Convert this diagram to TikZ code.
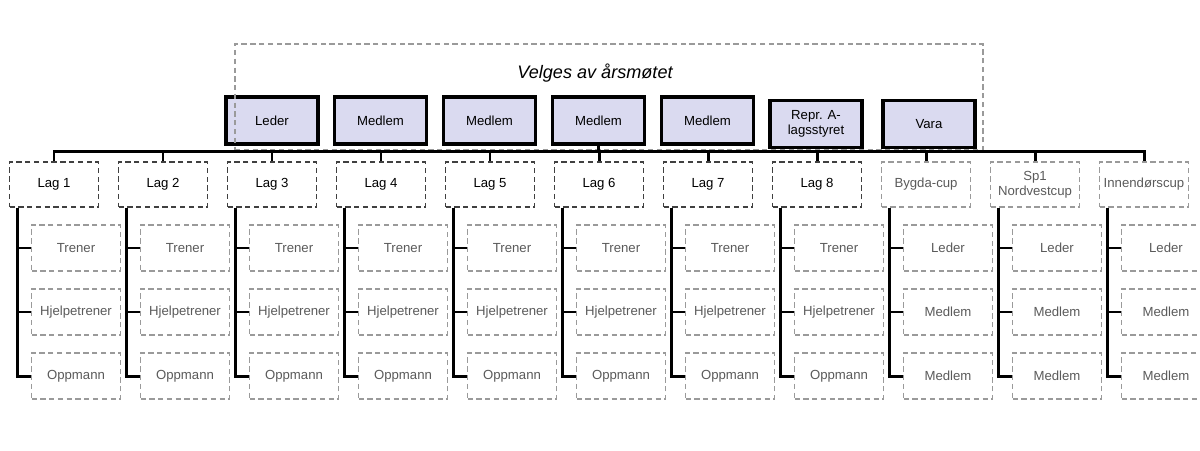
\documentclass[tikz,border=0pt]{standalone}
\usepackage{fontspec}
\setmainfont{Liberation Sans}
\usetikzlibrary{calc}

\definecolor{valgfill}{HTML}{DADAF0}
\definecolor{strek}{HTML}{9A9A9A}
\definecolor{tekstgraa}{HTML}{5A5A5A}

\begin{document}
\begin{tikzpicture}[x=0.02cm, y=-0.02cm,
    valgt/.style={draw, line width=1.8pt, fill=valgfill, inner sep=1pt, minimum width=1.84cm, minimum height=0.94cm, align=center, font=\fontsize{7.5}{8.5}\selectfont},
    lag/.style={draw=black!75, dash pattern=on 3pt off 2pt, line width=0.9pt, inner sep=1pt, minimum width=1.78cm, minimum height=0.9cm, align=center, font=\fontsize{7.5}{8.5}\selectfont},
    cup/.style={lag, draw=strek, text=tekstgraa},
    rolle/.style={draw=strek, dash pattern=on 3pt off 2pt, line width=0.85pt, inner sep=1pt, minimum width=1.78cm, minimum height=0.92cm, text=tekstgraa, font=\fontsize{7.5}{8.5}\selectfont},
    ramme/.style={draw=strek, dash pattern=on 3pt off 2pt, line width=0.85pt, minimum width=14.96cm, minimum height=2.12cm},
    buss/.style={line width=1.7pt}]
      \useasboundingbox (0,0) rectangle (1200,450);

      \node[valgt] (leder) at (272,120.5) {Leder};
      \node[valgt] (m1) at (380.5,120.5) {Medlem};
      \node[valgt] (m2) at (489.5,120.5) {Medlem};
      \node[valgt] (m3) at (598.5,120.5) {Medlem};
      \node[valgt] (m4) at (707.5,120.5) {Medlem};
      \node[valgt] (repr) at (816,124) {Repr. A-\\lagsstyret};
      \node[valgt] (vara) at (929,124) {Vara};

      \node[ramme] (ramme) at (609,97) {};
      \node[font=\fontsize{10.3}{12}\selectfont\itshape] (tittel) at (595,73) {Velges av årsmøtet};

      \node[lag] (1) at (54,184.5) {Lag 1};
      \node[lag] (2) at (163,184.5) {Lag 2};
      \node[lag] (3) at (272,184.5) {Lag 3};
      \node[lag] (4) at (381,184.5) {Lag 4};
      \node[lag] (5) at (490,184.5) {Lag 5};
      \node[lag] (6) at (599,184.5) {Lag 6};
      \node[lag] (7) at (708,184.5) {Lag 7};
      \node[lag] (8) at (817,184.5) {Lag 8};
      \node[cup] (9) at (926,184.5) {Bygda-cup};
      \node[cup] (10) at (1035,184.5) {Sp1\\Nordvestcup};
      \node[cup] (11) at (1144,184.5) {Innendørscup};

      \node[rolle] (1a) at (76,248) {Trener};
      \node[rolle] (1b) at (76,312) {Hjelpetrener};
      \node[rolle] (1c) at (76,376) {Oppmann};
      \node[rolle] (2a) at (185,248) {Trener};
      \node[rolle] (2b) at (185,312) {Hjelpetrener};
      \node[rolle] (2c) at (185,376) {Oppmann};
      \node[rolle] (3a) at (294,248) {Trener};
      \node[rolle] (3b) at (294,312) {Hjelpetrener};
      \node[rolle] (3c) at (294,376) {Oppmann};
      \node[rolle] (4a) at (403,248) {Trener};
      \node[rolle] (4b) at (403,312) {Hjelpetrener};
      \node[rolle] (4c) at (403,376) {Oppmann};
      \node[rolle] (5a) at (512,248) {Trener};
      \node[rolle] (5b) at (512,312) {Hjelpetrener};
      \node[rolle] (5c) at (512,376) {Oppmann};
      \node[rolle] (6a) at (621,248) {Trener};
      \node[rolle] (6b) at (621,312) {Hjelpetrener};
      \node[rolle] (6c) at (621,376) {Oppmann};
      \node[rolle] (7a) at (730,248) {Trener};
      \node[rolle] (7b) at (730,312) {Hjelpetrener};
      \node[rolle] (7c) at (730,376) {Oppmann};
      \node[rolle] (8a) at (839,248) {Trener};
      \node[rolle] (8b) at (839,312) {Hjelpetrener};
      \node[rolle] (8c) at (839,376) {Oppmann};
      \node[rolle] (9a) at (948,248) {Leder};
      \node[rolle] (9b) at (948,312) {Medlem};
      \node[rolle] (9c) at (948,376) {Medlem};
      \node[rolle] (10a) at (1057,248) {Leder};
      \node[rolle] (10b) at (1057,312) {Medlem};
      \node[rolle] (10c) at (1057,376) {Medlem};
      \node[rolle] (11a) at (1166,248) {Leder};
      \node[rolle] (11b) at (1166,312) {Medlem};
      \node[rolle] (11c) at (1166,376) {Medlem};

      % fra styret ned til lag og cuper
      \draw[buss] (1.north) -- ++(0,-10) -| (m3.south);
      \draw[buss] (2.north) -- ++(0,-10) -| (m3.south);
      \draw[buss] (3.north) -- ++(0,-10) -| (m3.south);
      \draw[buss] (4.north) -- ++(0,-10) -| (m3.south);
      \draw[buss] (5.north) -- ++(0,-10) -| (m3.south);
      \draw[buss] (6.north) -- ++(0,-10) -| (m3.south);
      \draw[buss] (7.north) -- ++(0,-10) -| (m3.south);
      \draw[buss] (8.north) -- ++(0,-10) -| (m3.south);
      \draw[buss] (9.north) -- ++(0,-10) -| (m3.south);
      \draw[buss] (10.north) -- ++(0,-10) -| (m3.south);
      \draw[buss] (11.north) -- ++(0,-10) -| (m3.south);

      % roller under hvert lag
      \draw[buss] (1.south west) ++(9,0) coordinate (s1) |- (1a.west) (s1) |- (1b.west) (s1) |- (1c.west);
      \draw[buss] (2.south west) ++(9,0) coordinate (s2) |- (2a.west) (s2) |- (2b.west) (s2) |- (2c.west);
      \draw[buss] (3.south west) ++(9,0) coordinate (s3) |- (3a.west) (s3) |- (3b.west) (s3) |- (3c.west);
      \draw[buss] (4.south west) ++(9,0) coordinate (s4) |- (4a.west) (s4) |- (4b.west) (s4) |- (4c.west);
      \draw[buss] (5.south west) ++(9,0) coordinate (s5) |- (5a.west) (s5) |- (5b.west) (s5) |- (5c.west);
      \draw[buss] (6.south west) ++(9,0) coordinate (s6) |- (6a.west) (s6) |- (6b.west) (s6) |- (6c.west);
      \draw[buss] (7.south west) ++(9,0) coordinate (s7) |- (7a.west) (s7) |- (7b.west) (s7) |- (7c.west);
      \draw[buss] (8.south west) ++(9,0) coordinate (s8) |- (8a.west) (s8) |- (8b.west) (s8) |- (8c.west);
      \draw[buss] (9.south west) ++(9,0) coordinate (s9) |- (9a.west) (s9) |- (9b.west) (s9) |- (9c.west);
      \draw[buss] (10.south west) ++(9,0) coordinate (s10) |- (10a.west) (s10) |- (10b.west) (s10) |- (10c.west);
      \draw[buss] (11.south west) ++(9,0) coordinate (s11) |- (11a.west) (s11) |- (11b.west) (s11) |- (11c.west);
    \end{tikzpicture}
\end{document}
